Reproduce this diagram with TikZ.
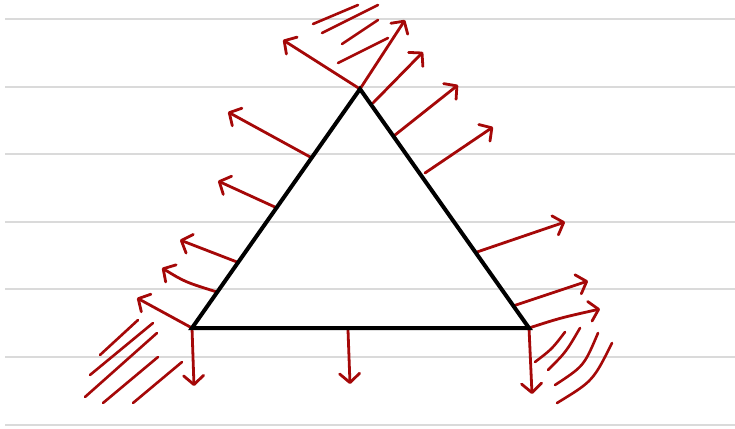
\documentclass[tikz,border=0pt]{standalone}
\usetikzlibrary{arrows.meta}
\definecolor{ink}{RGB}{165,8,8}
\definecolor{rule}{RGB}{218,218,218}
\tikzset{
  ruleline/.style={draw=rule, line width=2pt},
  tri/.style={draw=black, line width=4pt, line join=miter},
  vec/.style={draw=ink, line width=2.8pt, line cap=round, line join=round,
    -{Straight Barb[length=9pt,width=20pt,round]}},
  hatch/.style={draw=ink, line width=2.6pt, line cap=round}
}
\begin{document}
\begin{tikzpicture}[x=1pt,y=-1pt]
\useasboundingbox[fill=white] (0,0) rectangle (735,428);
% ruled paper
\foreach \yy in {19,86.5,154,221.7,289,357,424.5}
  \draw[ruleline] (5,\yy) -- (735,\yy);
% triangle
\coordinate (T) at (360,89);
\coordinate (L) at (192,328);
\coordinate (R) at (529,328);
% left side normals
\draw[vec] (312,158) -- (228,112);
\draw[vec] (277,208) -- (218,181);
\draw[vec] (237,262) -- (180,240);
\draw[vec] (217,292) .. controls (185,282) .. (162,268);
\draw[vec] (L) -- (137,298);
% top vertex
\draw[vec] (T) -- (283,40);
\draw[vec] (T) -- (405,20);
\draw[vec] (373,103) -- (423,52);
% right side normals
\draw[vec] (395,135) -- (458,85);
\draw[vec] (425,173) -- (493,127);
\draw[vec] (477,252) -- (565,222);
\draw[vec] (513,306) -- (588,281);
\draw[vec] (R) .. controls (560,318) .. (600,309);
% bottom normals
\draw[vec] (L) -- (194,386);
\draw[vec] (348,330) -- (350,384);
\draw[vec] (R) -- (532,394);
% hatching: top
\draw[hatch] (313,24) -- (358,5);
\draw[hatch] (322,33) -- (378,5);
\draw[hatch] (342,44) -- (378,20);
\draw[hatch] (338,63) -- (388,38);
% hatching: bottom left
\draw[hatch] (100,355) -- (138,320);
\draw[hatch] (90,375) -- (153,323);
\draw[hatch] (85,397) -- (157,333);
\draw[hatch] (103,403) -- (158,357);
\draw[hatch] (133,403) -- (182,362);
% hatching: bottom right
\draw[hatch] (535,362) .. controls (552,349) .. (565,332);
\draw[hatch] (548,370) .. controls (566,352) .. (580,328);
\draw[hatch] (555,385) .. controls (584,366) .. (598,333);
\draw[hatch] (557,403) .. controls (593,381) .. (612,343);
% triangle on top
\draw[tri] (T) -- (L) -- (R) -- cycle;
\end{tikzpicture}
\end{document}
